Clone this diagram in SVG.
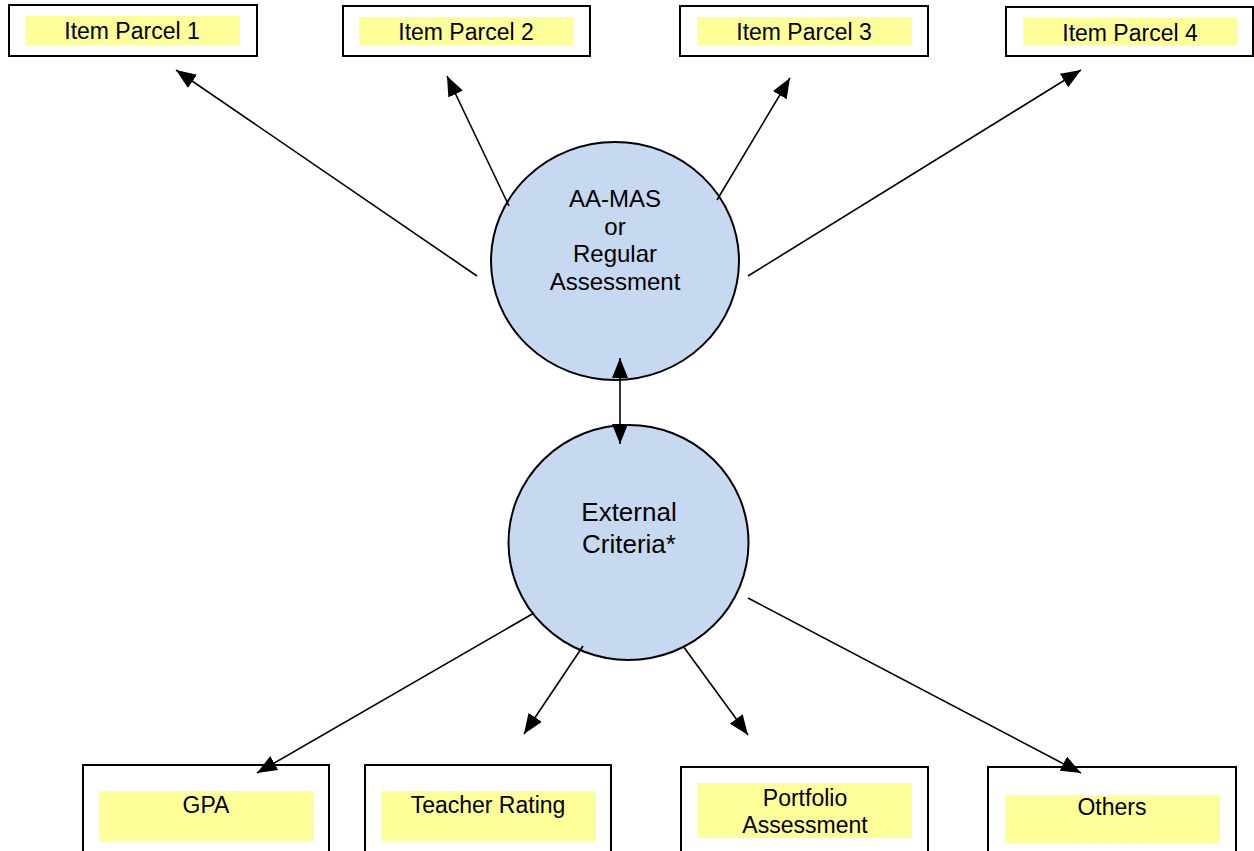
<svg xmlns="http://www.w3.org/2000/svg" width="1254" height="851" viewBox="0 0 1254 851">
<style>
.box{fill:#fff;stroke:#000;stroke-width:2}
.hl{fill:#ffff99}
.circ{fill:#c6d9f0;stroke:#000;stroke-width:2}
.t{font-family:"Liberation Sans",Arial,sans-serif;font-size:23px;fill:#000;text-anchor:middle}
.tc{font-family:"Liberation Sans",Arial,sans-serif;font-size:24px;fill:#000;text-anchor:middle}
.ln{stroke:#000;stroke-width:1.6;fill:none;marker-end:url(#ah)}
</style>
<defs>
<marker id="ah" markerUnits="userSpaceOnUse" markerWidth="20" markerHeight="16" refX="20" refY="8" orient="auto-start-reverse">
<path d="M0,0 L20,8 L0,16 z" fill="#000"/>
</marker>
</defs>
<rect width="1254" height="851" fill="#fff"/>
<g id="ip1"><rect class="box" x="9" y="5" width="248" height="51"/><rect class="hl" x="25" y="16" width="215" height="29"/><text class="t" x="132" y="39">Item Parcel 1</text></g>
<g id="ip2"><rect class="box" x="343" y="6" width="247" height="50"/><rect class="hl" x="359" y="17" width="215" height="28"/><text class="t" x="466" y="40">Item Parcel 2</text></g>
<g id="ip3"><rect class="box" x="680" y="6" width="248" height="50"/><rect class="hl" x="697" y="17" width="215" height="28"/><text class="t" x="804" y="40">Item Parcel 3</text></g>
<g id="ip4"><rect class="box" x="1006" y="7" width="247" height="49"/><rect class="hl" x="1023" y="18" width="215" height="27"/><text class="t" x="1130" y="41">Item Parcel 4</text></g>
<g id="aamas"><ellipse class="circ" cx="615" cy="261" rx="124" ry="119"/>
<text class="tc" x="615" y="207">AA-MAS</text><text class="tc" x="615" y="235">or</text><text class="tc" x="615" y="262">Regular</text><text class="tc" x="615" y="290">Assessment</text></g>
<g id="ext"><ellipse class="circ" cx="628.5" cy="542.5" rx="120" ry="117.5"/>
<text class="tc" x="629" y="521" style="font-size:26px">External</text><text class="tc" x="629" y="553" style="font-size:26px">Criteria*</text></g>
<g id="gpa"><rect class="box" x="83" y="765" width="246" height="90"/><rect class="hl" x="99" y="791" width="215" height="50"/><text class="t" x="206" y="813">GPA</text></g>
<g id="teacher"><rect class="box" x="365" y="765" width="246" height="90"/><rect class="hl" x="381" y="791" width="215" height="50"/><text class="t" x="488" y="813">Teacher Rating</text></g>
<g id="portfolio"><rect class="box" x="681" y="767" width="247" height="88"/><rect class="hl" x="697" y="783" width="215" height="55"/><text class="t" x="805" y="806">Portfolio</text><text class="t" x="805" y="833">Assessment</text></g>
<g id="others"><rect class="box" x="988" y="767" width="248" height="88"/><rect class="hl" x="1005" y="795" width="215" height="48"/><text class="t" x="1112" y="815">Others</text></g>
<g id="connectors">
<line class="ln" x1="477" y1="276" x2="176" y2="70"/>
<line class="ln" x1="509" y1="206" x2="447" y2="76"/>
<line class="ln" x1="717" y1="200" x2="790" y2="78"/>
<line class="ln" x1="748" y1="276" x2="1081" y2="70"/>
<line class="ln" x1="620" y1="358" x2="620" y2="444" style="marker-start:url(#ah)"/>
<line class="ln" x1="534" y1="613" x2="257" y2="773"/>
<line class="ln" x1="583" y1="646" x2="524" y2="734"/>
<line class="ln" x1="683" y1="646" x2="748" y2="735"/>
<line class="ln" x1="748" y1="598" x2="1081" y2="773"/>
</g>
</svg>
